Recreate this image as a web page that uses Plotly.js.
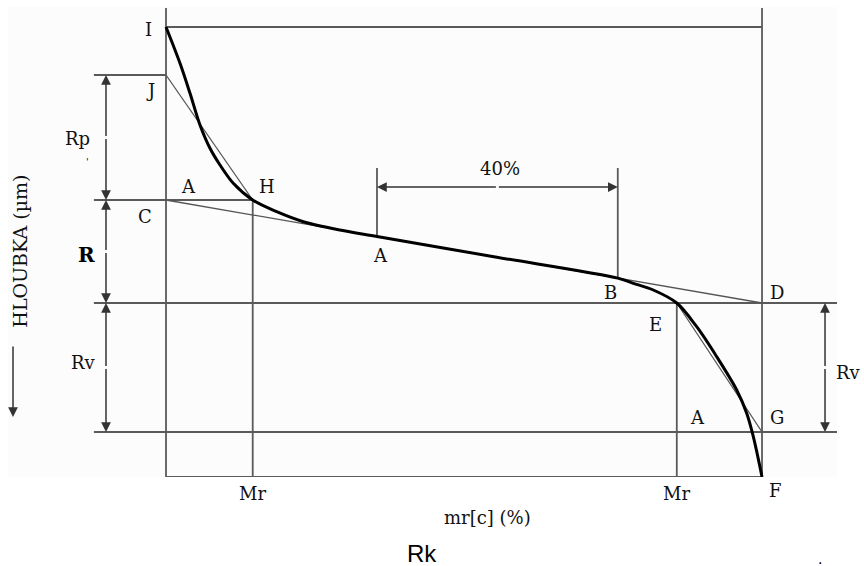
<!DOCTYPE html>
<html>
<head>
<meta charset="utf-8">
<script src="https://cdn.plot.ly/plotly-3.0.1.min.js"></script>
<style>html,body{margin:0;padding:0;background:#fff;}#chart{width:864px;height:566px;}</style>
</head>
<body>
<div id="chart"></div>
<script>
// ---- data (Abbott-Firestone bearing curve, schematic) ----
// material ratio mr[c] in %, depth in µm (0 at highest peak, increasing downwards)
const curveMr    = [0, 2.35, 4.03, 5.70, 7.38, 9.06, 11.29, 14.55, 18.57, 23.04, 29.19, 35.4, 55.0, 75.8, 78.41, 81.76, 85.7, 89.04, 92.40, 95.75, 97.43, 98.54, 100];
const curveDepth = [0, 3.63, 6.63, 9.80, 12.13, 13.80, 15.63, 17.30, 18.47, 19.47, 20.30, 20.95, 22.97, 25.11, 25.63, 26.30, 27.60, 29.97, 32.97, 36.30, 38.63, 40.97, 45.0];
const levelNames = ['I', 'J', 'C', 'D', 'G', 'F'];
const levelDepth = [0, 4.8, 17.3, 27.6, 40.5, 45.0];
const mrLabels   = ['Mr', 'Mr'];
const mrValues   = [14.55, 85.7];     // Mr1 (point H), Mr2 (point E)
const windowMr   = [35.4, 75.8];      // 40 % secant window (A..B)
const windowLabel = '40%';

// ---- layout helpers (positions of the dimension drawing) ----
const LEFT_EXT = -12.1, RIGHT_EXT = 112.58, TOP_EXT = -1.9;
const DIM_LEFT = -10.07, DIM_RIGHT = 110.57, WIN_TOP = 14.1, WIN_ARROW = 16.0;
const lv = n => levelDepth[levelNames.indexOf(n)];
function interp(x){
  for (let i = 0; i < curveMr.length - 1; i++){
    if (x >= curveMr[i] && x <= curveMr[i+1]){
      const t = (x - curveMr[i]) / (curveMr[i+1] - curveMr[i]);
      return curveDepth[i] + t * (curveDepth[i+1] - curveDepth[i]);
    }
  }
  return curveDepth[curveDepth.length-1];
}
const mrH = mrValues[0], mrE = mrValues[1];

// frame / construction lines
const fx = [], fy = [];
function seg(x0, y0, x1, y1, ax, ay){ ax.push(x0, x1, null); ay.push(y0, y1, null); }
seg(0, lv('I'), 100, lv('I'), fx, fy);
seg(LEFT_EXT, lv('J'), 0, lv('J'), fx, fy);
seg(LEFT_EXT, lv('C'), mrH, lv('C'), fx, fy);
seg(LEFT_EXT, lv('D'), RIGHT_EXT, lv('D'), fx, fy);
seg(LEFT_EXT, lv('G'), RIGHT_EXT, lv('G'), fx, fy);
seg(0, lv('F'), 100, lv('F'), fx, fy);
seg(0, TOP_EXT, 0, lv('F'), fx, fy);
seg(100, TOP_EXT, 100, lv('F'), fx, fy);
seg(mrH, lv('C'), mrH, lv('F'), fx, fy);
seg(mrE, lv('D'), mrE, lv('F'), fx, fy);
windowMr.forEach(m => seg(m, WIN_TOP, m, interp(m), fx, fy));

// secant (equivalent straight) lines
const sx = [], sy = [];
seg(0, lv('J'), mrH, lv('C'), sx, sy);
seg(0, lv('C'), 100, lv('D'), sx, sy);
seg(mrE, lv('D'), 100, lv('G'), sx, sy);

const gray = '#5a5a5a';
const traces = [
  {x: fx, y: fy, mode: 'lines', line: {color: gray, width: 1.8}, hoverinfo: 'skip', showlegend: false},
  {x: sx, y: sy, mode: 'lines', line: {color: '#555', width: 1.3}, hoverinfo: 'skip', showlegend: false},
  {x: curveMr, y: curveDepth, mode: 'lines', line: {color: '#000', width: 3, shape: 'spline', smoothing: 0.9}, hoverinfo: 'skip', showlegend: false}
];

const serif = {family: 'DejaVu Serif', size: 18, color: '#111'};
function lab(text, x, y, extra){
  return Object.assign({text: text, x: x, y: y, xref: 'x', yref: 'y', showarrow: false, font: serif, xanchor: 'center', yanchor: 'middle'}, extra || {});
}
function dimArrow(x0, y0, x1, y1){
  return {x: x1, y: y1, ax: x0, ay: y0, xref: 'x', yref: 'y', axref: 'x', ayref: 'y', text: '', showarrow: true,
          arrowhead: 2, arrowsize: 1.3, arrowwidth: 1.5, arrowcolor: '#333', standoff: 0, startstandoff: 0};
}
// paper y for positions below the drawing frame
const py = p => (477 - p) / 470;

const annotations = [
  lab('I', -3.02, 0.2),
  lab('J', -2.68, 6.3),
  lab('Rp', -14.77, 11.1),
  lab("'", -13.1, 13.4, {font: {family: 'DejaVu Serif', size: 10, color: '#111'}}),
  lab('A', 3.69, 15.9),
  lab('H', 16.95, 15.9),
  lab('C', -3.52, 18.9),
  lab('R', -13.42, 22.8, {font: {family: 'DejaVu Serif', size: 20, color: '#000', weight: 'bold'}}),
  lab('Rv', -13.76, 33.5),
  lab('A', 35.91, 22.8),
  lab(windowLabel, 56.04, 14.1),
  lab('B', 74.5, 26.5),
  lab('D', 102.5, 26.5),
  lab('E', 82.05, 29.7),
  lab('A', 89.09, 39.0),
  lab('G', 102.5, 39.0),
  lab('Rv', (848 - 8) / 829, 34.5, {xref: 'paper'}),
  lab(mrLabels[0], mrValues[0], py(493), {yref: 'paper'}),
  lab(mrLabels[1], mrValues[1], py(493), {yref: 'paper'}),
  lab('F', 102.18, py(490), {yref: 'paper'}),
  lab('mr[c] (%)', 53.86, py(517), {yref: 'paper'}),
  lab('HLOUBKA (µm)', -24.55, 22.4, {textangle: -90, font: {family: 'DejaVu Serif', size: 19, color: '#111'}}),
  lab('Rk', 42.95, py(553), {yref: 'paper', font: {family: 'Liberation Sans', size: 24, color: '#000'}}),
  lab('.', 109.7, py(558), {yref: 'paper', font: {family: 'Liberation Sans', size: 16, color: '#000'}}),
  dimArrow(DIM_LEFT, (lv('J') + lv('C')) / 2, DIM_LEFT, lv('J')),
  dimArrow(DIM_LEFT, (lv('J') + lv('C')) / 2, DIM_LEFT, lv('C')),
  dimArrow(DIM_LEFT, (lv('C') + lv('D')) / 2, DIM_LEFT, lv('C')),
  dimArrow(DIM_LEFT, (lv('C') + lv('D')) / 2, DIM_LEFT, lv('D')),
  dimArrow(DIM_LEFT, (lv('D') + lv('G')) / 2, DIM_LEFT, lv('D')),
  dimArrow(DIM_LEFT, (lv('D') + lv('G')) / 2, DIM_LEFT, lv('G')),
  dimArrow(DIM_RIGHT, (lv('D') + lv('G')) / 2, DIM_RIGHT, lv('D')),
  dimArrow(DIM_RIGHT, (lv('D') + lv('G')) / 2, DIM_RIGHT, lv('G')),
  dimArrow((windowMr[0] + windowMr[1]) / 2, WIN_ARROW, windowMr[0], WIN_ARROW),
  dimArrow((windowMr[0] + windowMr[1]) / 2, WIN_ARROW, windowMr[1], WIN_ARROW),
  dimArrow(-25.67, 31.8, -25.67, 39.0)
];

const layout = {
  width: 864, height: 566,
  margin: {l: 8, r: 27, t: 7, b: 89, pad: 0},
  paper_bgcolor: '#ffffff',
  plot_bgcolor: '#fcfcfc',
  showlegend: false,
  xaxis: {range: [-26.51, 112.58], showgrid: false, zeroline: false, showticklabels: false, showline: false, ticks: '', fixedrange: true},
  yaxis: {range: [45.0, -2.0], showgrid: false, zeroline: false, showticklabels: false, showline: false, ticks: '', fixedrange: true},
  annotations: annotations
};

Plotly.newPlot('chart', traces, layout, {displayModeBar: false, staticPlot: true});
</script>
</body>
</html>
